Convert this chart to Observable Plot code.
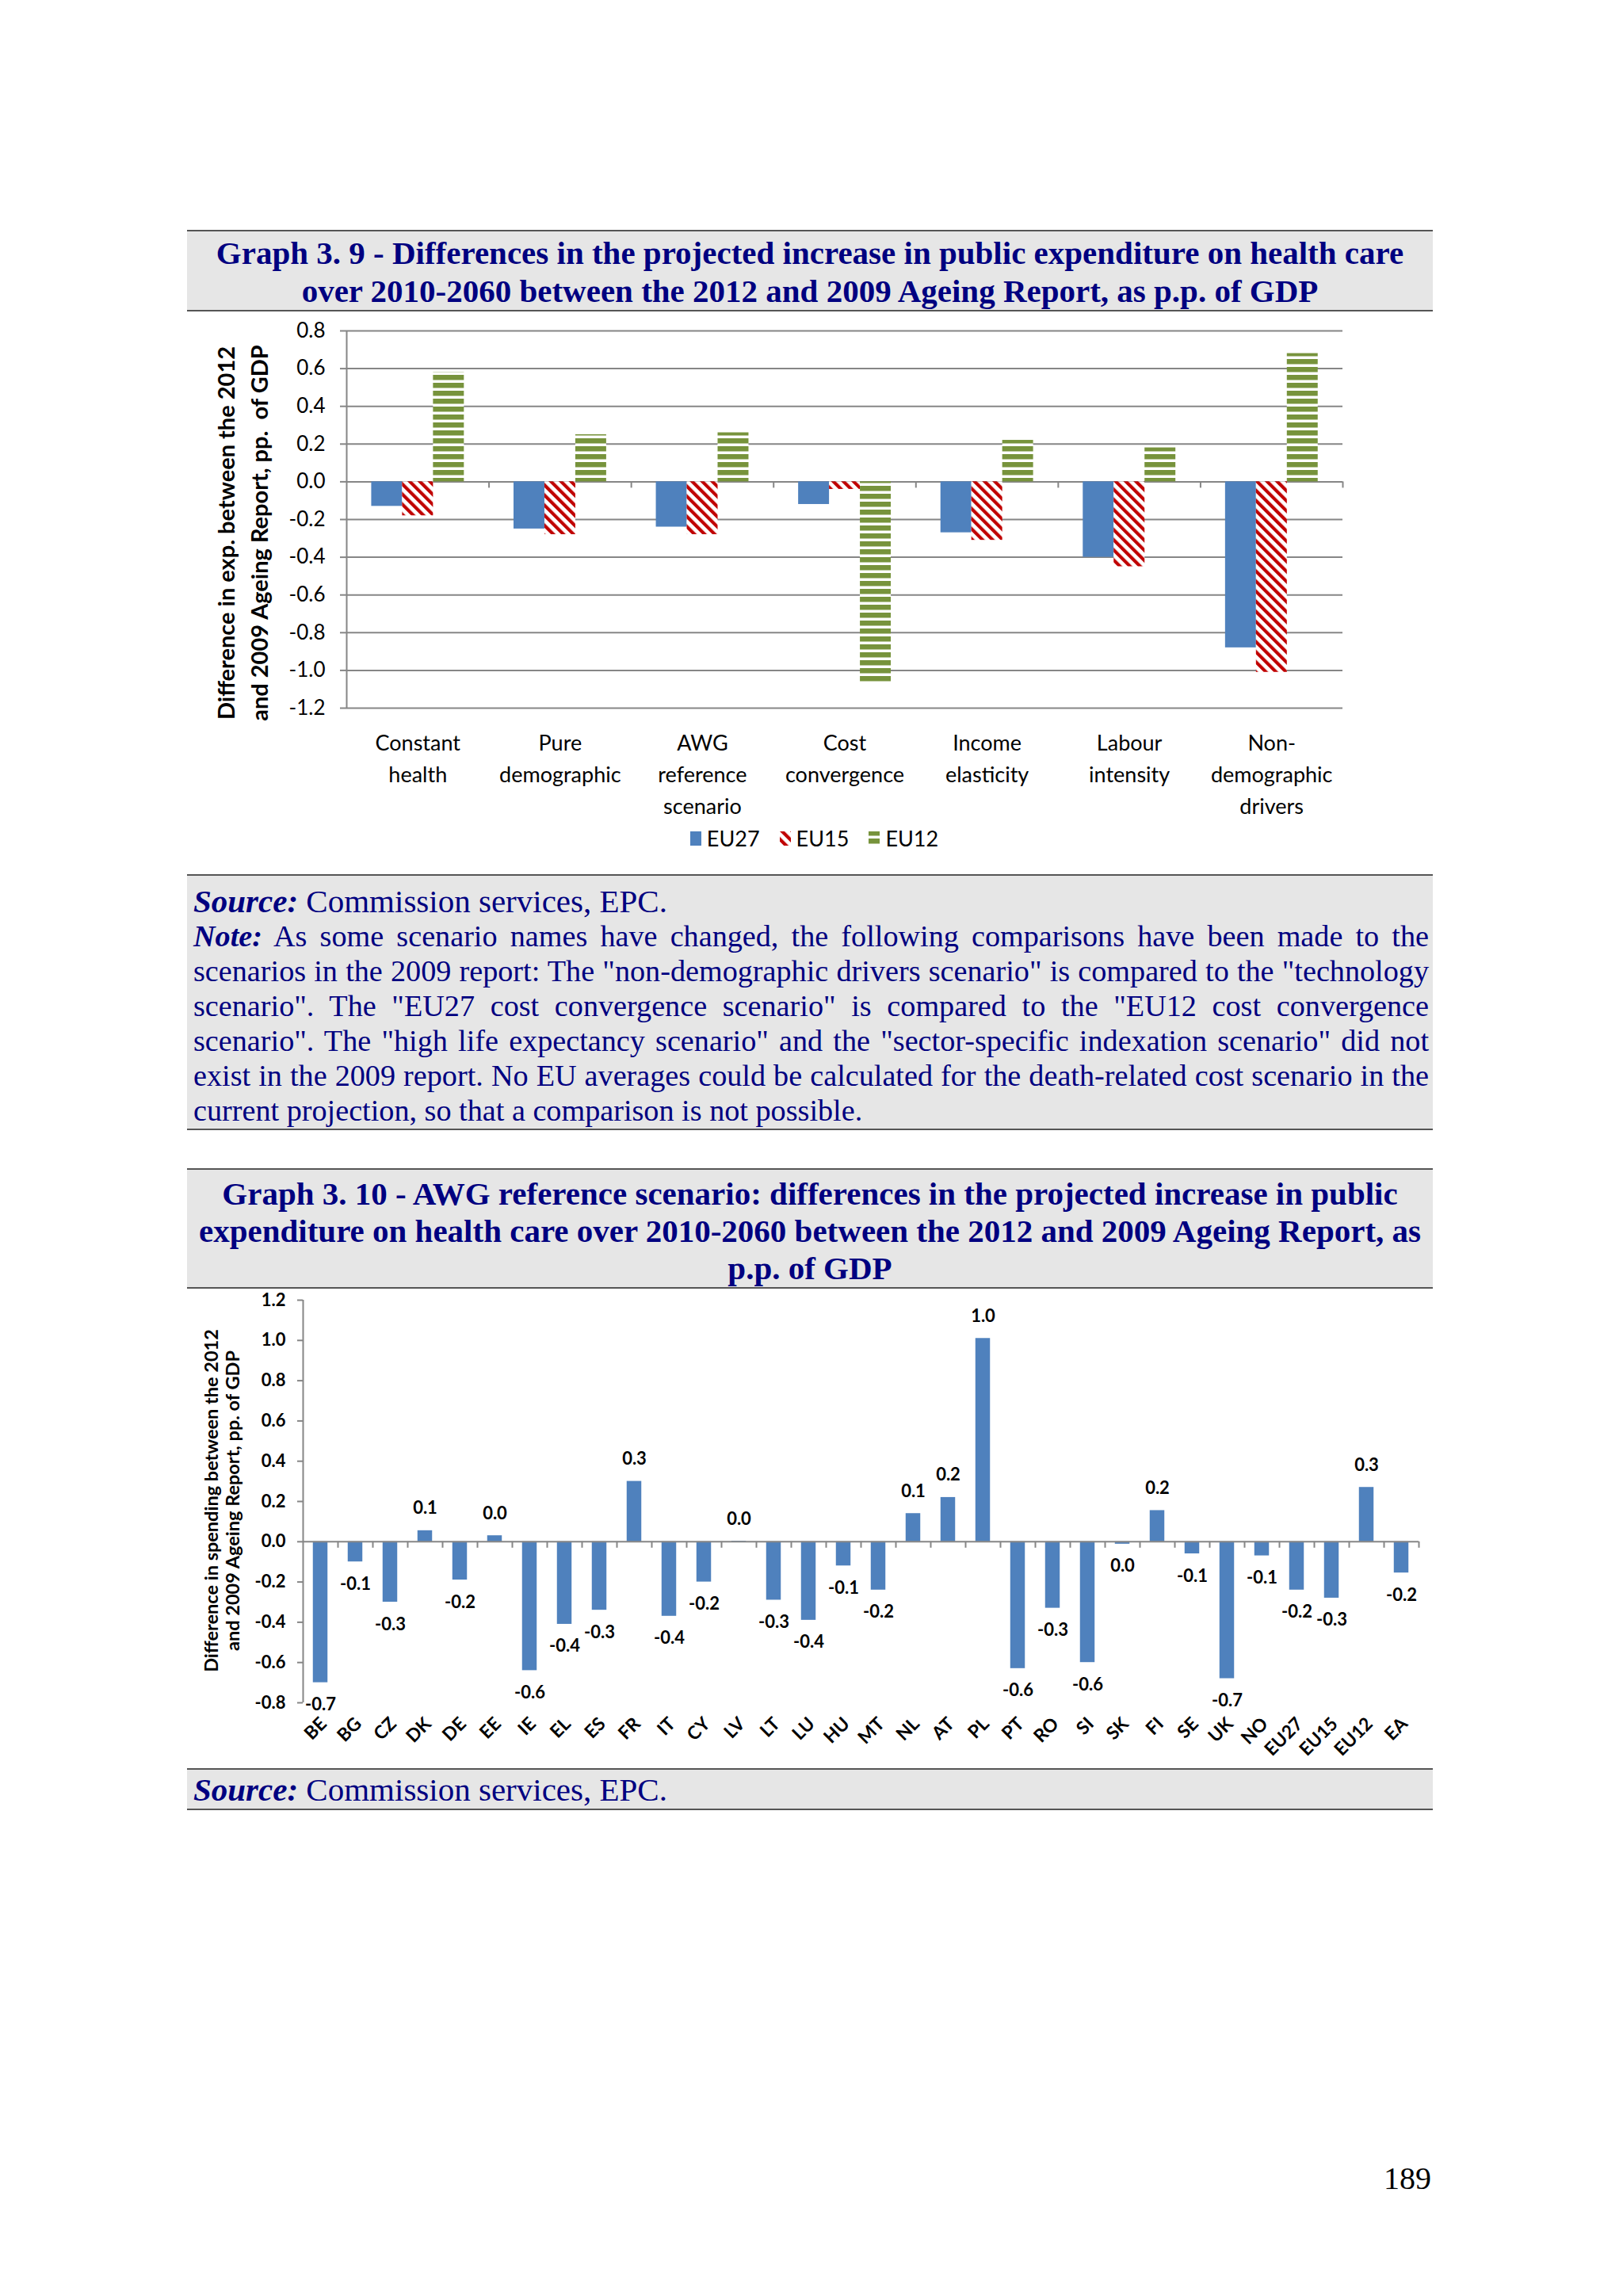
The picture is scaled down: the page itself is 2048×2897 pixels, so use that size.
<!DOCTYPE html>
<html>
<head>
<meta charset="utf-8">
<script src="https://cdn.jsdelivr.net/npm/d3@7"></script>
<script src="https://cdn.jsdelivr.net/npm/@observablehq/plot@0.6"></script>
<style>
  html, body { margin: 0; padding: 0; background: #fff; }
  body { width: 2048px; height: 2897px; position: relative; overflow: hidden; }
  #page { position: absolute; left: 236px; top: 290px; width: 1572px; }
  .box { background: #e6e6e6; border-top: 2px solid #555; border-bottom: 2px solid #555;
         font-family: "Liberation Serif", "Times New Roman", serif; color: #000080; }
  .title { font-weight: bold; font-size: 41px; text-align: center; }
  .title div { white-space: nowrap; }
  #t1 { line-height: 48px; padding-top: 3px; height: 103px; box-sizing: border-box; }
  #t2 { line-height: 47px; padding-top: 7px; margin-top: 48px; height: 152px; box-sizing: border-box; }
  .chart { background: #fff; }
  #c1 { height: 710px; }
  #c2 { height: 605px; }
  #legend { height: 65px; display: flex; justify-content: center; align-items: flex-start;
            font-family: Lato, sans-serif; font-size: 27px; line-height: 40px; padding-left: 10px; }
  #legend .item { display: flex; align-items: center; margin: 0 12px; }
  #legend svg { margin-right: 6px; }
  .note { font-size: 38.2px; line-height: 44px; padding: 10px 5px 0 8px; height: 323px; box-sizing: border-box; }
  .note div { white-space: nowrap; }
  .note .src { font-size: 41px; }
  .note .j { text-align: justify; text-align-last: justify; }
  .src2 { font-size: 41px; line-height: 44px; padding: 3px 5px 2px 8px; height: 53px; box-sizing: border-box; }
  #pagenum { position: absolute; left: 1746px; top: 2727px; font-family: "Liberation Serif", "Times New Roman", serif;
             font-size: 40px; line-height: 44px; color: #000; }
</style>
</head>
<body>
<svg width="0" height="0" style="position:absolute;left:0;top:0">
  <defs>
    <pattern id="hatchRed" patternUnits="userSpaceOnUse" width="9" height="9" patternTransform="rotate(-45)">
      <rect width="9" height="9" fill="#ffffff"></rect>
      <rect width="4.2" height="9" fill="#c00000"></rect>
    </pattern>
    <pattern id="stripeGreen" patternUnits="userSpaceOnUse" width="10" height="10">
      <rect width="10" height="10" fill="#ffffff"></rect>
      <rect width="10" height="6.5" fill="#77933c"></rect>
    </pattern>
  </defs>
</svg>

<div id="page">
  <div class="box title" id="t1">
    <div>Graph 3. 9 - Differences in the projected increase in public expenditure on health care</div>
    <div>over 2010-2060 between the 2012 and 2009 Ageing Report, as p.p. of GDP</div>
  </div>
  <div class="chart" id="c1">
    <div id="plot1"></div>
    <div id="legend"></div>
  </div>
  <div class="box note">
    <div class="src"><b><i>Source:</i></b> Commission services, EPC.</div>
    <div class="j"><b><i>Note:</i></b> As some scenario names have changed, the following comparisons have been made to the</div>
    <div class="j">scenarios in the 2009 report: The "non-demographic drivers scenario" is compared to the "technology</div>
    <div class="j">scenario". The "EU27 cost convergence scenario" is compared to the "EU12 cost convergence</div>
    <div class="j">scenario". The "high life expectancy scenario" and the "sector-specific indexation scenario" did not</div>
    <div class="j">exist in the 2009 report. No EU averages could be calculated for the death-related cost scenario in the</div>
    <div>current projection, so that a comparison is not possible.</div>
  </div>
  <div class="box title" id="t2">
    <div>Graph 3. 10 - AWG reference scenario: differences in the projected increase in public</div>
    <div>expenditure on health care over 2010-2060 between the 2012 and 2009 Ageing Report, as</div>
    <div>p.p. of GDP</div>
  </div>
  <div class="chart" id="c2"><div id="plot2"></div></div>
  <div class="box src2"><b><i>Source:</i></b> Commission services, EPC.</div>
</div>
<div id="pagenum">189</div>

<script>
// ---------- Graph 3.9 data ----------
const scenarioLabels = ["Constant\nhealth", "Pure\ndemographic", "AWG\nreference\nscenario", "Cost\nconvergence", "Income\nelasticity", "Labour\nintensity", "Non-\ndemographic\ndrivers"];
const seriesNames = ["EU27", "EU15", "EU12"];
const eu27 = [-0.13, -0.25, -0.24, -0.12, -0.27, -0.40, -0.88];
const eu15 = [-0.18, -0.28, -0.28, -0.04, -0.31, -0.45, -1.01];
const eu12 = [0.58, 0.25, 0.26, -1.07, 0.22, 0.18, 0.68];
const yTicks1 = [0.8, 0.6, 0.4, 0.2, 0.0, -0.2, -0.4, -0.6, -0.8, -1.0, -1.2];
const yTitle1 = "Difference in exp. between the 2012\nand 2009 Ageing Report, pp.  of GDP";

// ---------- Graph 3.10 data ----------
const countries = ["BE", "BG", "CZ", "DK", "DE", "EE", "IE", "EL", "ES", "FR", "IT", "CY", "LV", "LT", "LU", "HU", "MT", "NL", "AT", "PL", "PT", "RO", "SI", "SK", "FI", "SE", "UK", "NO", "EU27", "EU15", "EU12", "EA"];
const awgDiff = [-0.70, -0.10, -0.30, 0.055, -0.19, 0.03, -0.64, -0.41, -0.34, 0.30, -0.37, -0.20, 0.003, -0.29, -0.39, -0.12, -0.24, 0.14, 0.22, 1.01, -0.63, -0.33, -0.60, -0.012, 0.155, -0.06, -0.68, -0.07, -0.24, -0.28, 0.27, -0.155];
const yTicks2 = [1.2, 1.0, 0.8, 0.6, 0.4, 0.2, 0.0, -0.2, -0.4, -0.6, -0.8];
const yTitle2 = "Difference in spending between the 2012\nand 2009 Ageing Report, pp. of GDP";

const fmt = v => { const s = (+v).toFixed(1); return s === "-0.0" ? "0.0" : s; };

const seriesFill = {EU27: "#4f81bd", EU15: "url(#hatchRed)", EU12: "url(#stripeGreen)"};
const seriesValues = {EU27: eu27, EU15: eu15, EU12: eu12};
const gridColor = "#868686";

// ---------- Chart 1 ----------
const rows1 = [];
scenarioLabels.forEach((c, i) => seriesNames.forEach((s, k) => rows1.push({i, k, series: s, value: seriesValues[s][i]})));
const n1 = scenarioLabels.length;
const groupStart = 0.175, barW = 0.217;
const W1 = 1572, H1 = 645, mL1 = 201, mR1 = 114, mT1 = 24, mB1 = 145;
const px1 = (W1 - mL1 - mR1) / n1;
const py1 = (H1 - mT1 - mB1) / 2.0;
const tick1x = 8 / px1, tick1y = 8 / py1;

const barMarks1 = seriesNames.map(s => Plot.rectY(rows1.filter(d => d.series === s), {
  x1: d => d.i + groupStart + d.k * barW,
  x2: d => d.i + groupStart + (d.k + 1) * barW,
  y1: 0, y2: "value",
  fill: seriesFill[s]
}));

const plot1 = Plot.plot({
  width: W1, height: H1,
  marginLeft: mL1, marginRight: mR1, marginTop: mT1, marginBottom: mB1,
  x: {type: "linear", domain: [0, n1], axis: null},
  y: {domain: [-1.2, 0.8], axis: null},
  style: {fontFamily: "Lato, sans-serif", fontSize: "27px", color: "#000", background: "transparent", overflow: "visible"},
  marks: [
    Plot.ruleY(yTicks1, {y: d => d, x1: 0, x2: n1, stroke: gridColor, strokeWidth: 2}),
    ...barMarks1,
    Plot.ruleX([0], {x: d => d, y1: -1.2, y2: 0.8, stroke: gridColor, strokeWidth: 2}),
    Plot.ruleY(yTicks1, {y: d => d, x1: -tick1x, x2: 0, stroke: gridColor, strokeWidth: 2}),
    Plot.ruleX(d3.range(1, n1 + 1), {x: d => d, y1: 0, y2: -tick1y, stroke: gridColor, strokeWidth: 2}),
    Plot.text(yTicks1, {y: d => d, frameAnchor: "left", text: d => fmt(d), textAnchor: "end", dx: -27, fontSize: 26}),
    Plot.text(scenarioLabels, {x: (d, i) => i + 0.5, frameAnchor: "bottom", text: d => d, lineAnchor: "top", dy: 25, lineHeight: 40 / 27, fontSize: 27}),
    Plot.text([yTitle1], {frameAnchor: "left", text: d => d, rotate: -90, textAnchor: "middle", dx: -134, dy: 17, fontWeight: "bold", fontSize: 29, lineHeight: 42 / 29, lineAnchor: "middle"})
  ]
});
document.getElementById("plot1").append(plot1);

// legend
const legend = document.getElementById("legend");
seriesNames.forEach(s => {
  const item = document.createElement("div");
  item.className = "item";
  item.innerHTML = `<svg width="16" height="20"><rect x="1" y="1" width="14" height="18" fill="${seriesFill[s]}"></rect></svg><span>${s}</span>`;
  legend.append(item);
});

// ---------- Chart 2 ----------
const rows2 = countries.map((c, i) => ({i, country: c, value: awgDiff[i]}));
const n2 = countries.length;
const W2 = 1572, H2 = 605, mL2 = 146, mR2 = 18, mT2 = 14, mB2 = 83;
const px2 = (W2 - mL2 - mR2) / n2;
const py2 = (H2 - mT2 - mB2) / 2.0;
const tick2x = 7 / px2, tick2y = 8 / py2;

const plot2 = Plot.plot({
  width: W2, height: H2,
  marginLeft: mL2, marginRight: mR2, marginTop: mT2, marginBottom: mB2,
  x: {type: "linear", domain: [0, n2], axis: null},
  y: {domain: [-0.8, 1.2], axis: null},
  style: {fontFamily: "Lato, sans-serif", fontSize: "22px", fontWeight: "bold", color: "#000", background: "transparent", overflow: "visible"},
  marks: [
    Plot.rectY(rows2, {x1: d => d.i + 0.29, x2: d => d.i + 0.71, y1: 0, y2: "value", fill: "#4f81bd"}),
    Plot.ruleY([0], {y: d => d, x1: 0, x2: n2, stroke: gridColor, strokeWidth: 2}),
    Plot.ruleX([0], {x: d => d, y1: -0.8, y2: 1.2, stroke: gridColor, strokeWidth: 2}),
    Plot.ruleY(yTicks2, {y: d => d, x1: -tick2x, x2: 0, stroke: gridColor, strokeWidth: 2}),
    Plot.ruleX(d3.range(1, n2 + 1), {x: d => d, y1: 0, y2: -tick2y, stroke: gridColor, strokeWidth: 2}),
    Plot.text(yTicks2, {y: d => d, frameAnchor: "left", text: d => fmt(d), textAnchor: "end", dx: -22, fontSize: 22}),
    Plot.text(rows2.filter(d => d.value >= 0), {x: d => d.i + 0.5, y: "value", text: d => fmt(d.value), dy: -28, fontSize: 22}),
    Plot.text(rows2.filter(d => d.value < 0), {x: d => d.i + 0.5, y: "value", text: d => fmt(d.value), dy: 28, fontSize: 22}),
    Plot.text(countries, {x: (d, i) => i + 0.5, frameAnchor: "bottom", text: d => d, rotate: -45, textAnchor: "end", dx: 9, dy: 28, fontSize: 23}),
    Plot.text([yTitle2], {frameAnchor: "left", text: d => d, rotate: -90, textAnchor: "middle", dx: -103, dy: -1, fontSize: 23.5, lineHeight: 27 / 23.5, lineAnchor: "middle"})
  ]
});
document.getElementById("plot2").append(plot2);
</script>
</body>
</html>
